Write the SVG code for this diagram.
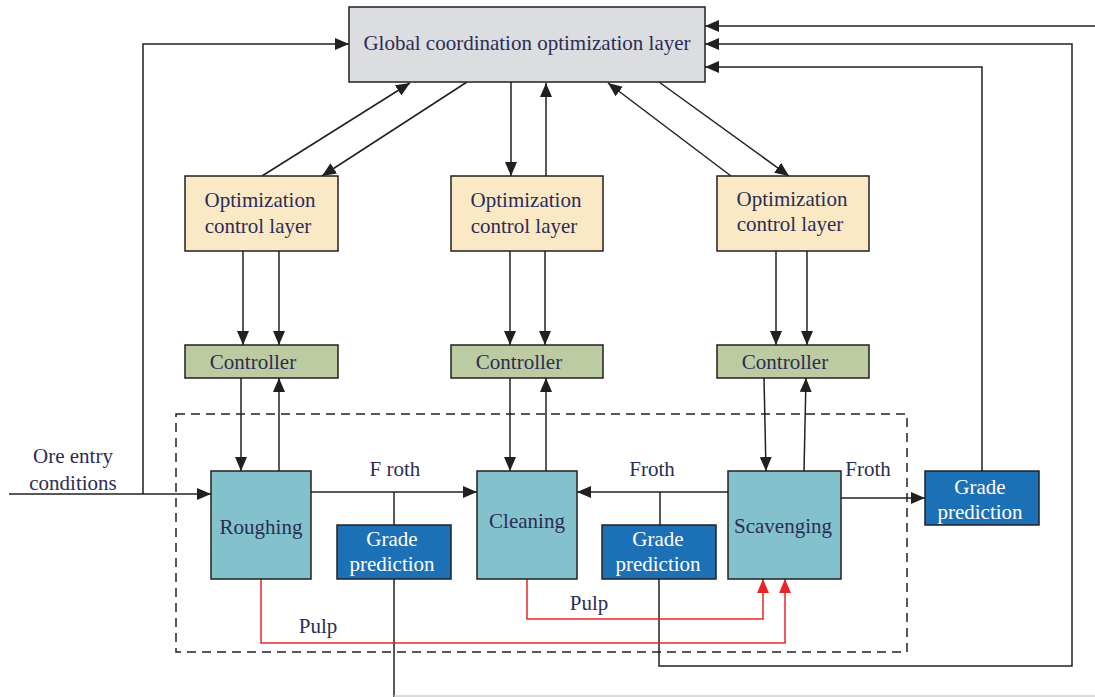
<svg xmlns="http://www.w3.org/2000/svg" width="1095" height="697" viewBox="0 0 1095 697">
<style>
.t{font-family:"Liberation Serif","Times New Roman",serif;fill:#2b2d55;font-size:21px;text-anchor:middle}
.w{fill:#ffffff}
.b{stroke:#231f20;stroke-width:1.5}
.c{fill:none;stroke:#231f20;stroke-width:1.5}
.r{fill:none;stroke:#e8262a;stroke-width:1.5}
.a{marker-end:url(#ah)}
.ra{marker-end:url(#rh)}
</style>
<defs>
<marker id="ah" viewBox="0 0 14 12" refX="14" refY="6" markerWidth="14" markerHeight="12" markerUnits="userSpaceOnUse" orient="auto"><path d="M0,0 L14,6 L0,12 z" fill="#231f20"/></marker>
<marker id="rh" viewBox="0 0 14 12" refX="14" refY="6" markerWidth="14" markerHeight="12" markerUnits="userSpaceOnUse" orient="auto"><path d="M0,0 L14,6 L0,12 z" fill="#e8262a"/></marker>
</defs>
<rect width="1095" height="697" fill="#ffffff"/>
<rect x="176" y="414" width="731" height="238" fill="none" stroke="#231f20" stroke-width="1.5" stroke-dasharray="9,6"/>
<g id="connectors">
<path class="c a" d="M262,176 L410,83"/>
<path class="c a" d="M467,82 L322,176"/>
<path class="c a" d="M511,82 L511,176"/>
<path class="c a" d="M546,176 L546,83"/>
<path class="c a" d="M731,176 L608,83"/>
<path class="c a" d="M659,82 L789,176"/>
<path class="c a" d="M243,251 L243,345"/>
<path class="c a" d="M279,251 L279,345"/>
<path class="c a" d="M510,251 L510,345"/>
<path class="c a" d="M545,251 L545,345"/>
<path class="c a" d="M776,251 L776,345"/>
<path class="c a" d="M807,251 L807,345"/>
<path class="c a" d="M241,378 L241,471"/>
<path class="c a" d="M279,471 L279,378"/>
<path class="c a" d="M510,378 L510,471"/>
<path class="c a" d="M546,471 L546,378"/>
<path class="c a" d="M764,378 L766,471"/>
<path class="c a" d="M804,471 L806,378"/>
<path class="c a" d="M9,494 L211,494"/>
<path class="c a" d="M143,494 L143,44 L349,44"/>
<path class="c a" d="M311,492 L477,492"/>
<path class="c" d="M394,492 L394,525"/>
<path class="c" d="M394,579 L394,697"/>
<path d="M394,696 L1095,696" fill="none" stroke="#cfcfcf" stroke-width="1.5"/>
<path class="c a" d="M728,492 L577,492"/>
<path class="c" d="M660,492 L660,525"/>
<path class="c a" d="M659,579 L659,666 L1072,666 L1072,44 L705,44"/>
<path class="c a" d="M841,498 L925,498"/>
<path class="c a" d="M982,471 L982,67 L705,67"/>
<path class="c a" d="M1095,26 L705,26"/>
<path class="r ra" d="M261,579 L261,643 L785,643 L785,579"/>
<path class="r ra" d="M527,579 L527,619 L763,619 L763,579"/>
</g>
<g id="global">
<rect x="349" y="7" width="356" height="75" fill="#dcdde0" class="b"/>
<text class="t" x="527" y="50">Global coordination optimization layer</text>
</g>
<g id="opt1">
<rect x="185" y="176" width="153" height="75" fill="#fbe8c5" class="b"/>
<text class="t" x="260" y="207">Optimization</text>
<text class="t" x="258" y="233">control layer</text>
</g>
<g id="opt2">
<rect x="451" y="176" width="152" height="75" fill="#fbe8c5" class="b"/>
<text class="t" x="526" y="207">Optimization</text>
<text class="t" x="524" y="233">control layer</text>
</g>
<g id="opt3">
<rect x="717" y="176" width="152" height="75" fill="#fbe8c5" class="b"/>
<text class="t" x="792" y="206">Optimization</text>
<text class="t" x="790" y="231">control layer</text>
</g>
<g id="ctrl1">
<rect x="185" y="345" width="153" height="33" fill="#bccba1" class="b"/>
<text class="t" x="253" y="369">Controller</text>
</g>
<g id="ctrl2">
<rect x="451" y="345" width="152" height="33" fill="#bccba1" class="b"/>
<text class="t" x="519" y="369">Controller</text>
</g>
<g id="ctrl3">
<rect x="717" y="345" width="152" height="33" fill="#bccba1" class="b"/>
<text class="t" x="785" y="369">Controller</text>
</g>
<g id="roughing">
<rect x="211" y="471" width="100" height="108" fill="#83c2cd" class="b"/>
<text class="t" x="261" y="534">Roughing</text>
</g>
<g id="cleaning">
<rect x="477" y="471" width="100" height="108" fill="#83c2cd" class="b"/>
<text class="t" x="527" y="528">Cleaning</text>
</g>
<g id="scavenging">
<rect x="728" y="471" width="113" height="108" fill="#83c2cd" class="b"/>
<text class="t" x="783" y="533">Scavenging</text>
</g>
<g id="grade1">
<rect x="337" y="525" width="114" height="54" fill="#1c70b6" class="b"/>
<text class="t w" x="392" y="546">Grade</text>
<text class="t w" x="392" y="571">prediction</text>
</g>
<g id="grade2">
<rect x="602" y="525" width="114" height="54" fill="#1c70b6" class="b"/>
<text class="t w" x="658" y="546">Grade</text>
<text class="t w" x="658" y="571">prediction</text>
</g>
<g id="grade3">
<rect x="925" y="471" width="114" height="54" fill="#1c70b6" class="b"/>
<text class="t w" x="980" y="494">Grade</text>
<text class="t w" x="980" y="519">prediction</text>
</g>
<g id="labels">
<text class="t" x="73" y="463">Ore entry</text>
<text class="t" x="73" y="490">conditions</text>
<text class="t" x="395" y="476">F roth</text>
<text class="t" x="652" y="476">Froth</text>
<text class="t" x="868" y="476">Froth</text>
<text class="t" x="318" y="633">Pulp</text>
<text class="t" x="589" y="610">Pulp</text>
</g>
</svg>
